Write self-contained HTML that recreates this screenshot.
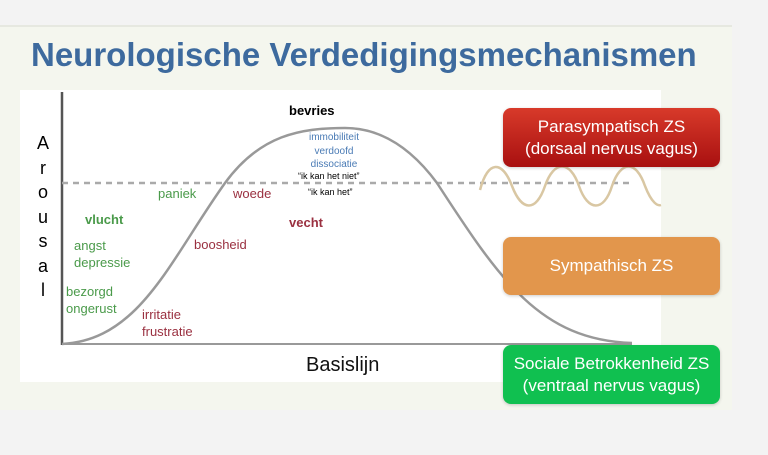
<!DOCTYPE html>
<html><head><meta charset="utf-8"><style>
body{margin:0;width:768px;height:455px;background:#f3f3f3;position:relative;overflow:hidden;font-family:"Liberation Sans",sans-serif}
.panel{position:absolute;left:0;top:25px;width:732px;height:383px;background:#f4f6ee;border-top:2px solid #e6e8e0}
.chart{position:absolute;left:20px;top:90px;width:641px;height:292px;background:#fff}
.t{position:absolute;white-space:nowrap}
.box{position:absolute;left:503px;width:217px;border-radius:8px;color:#fff;text-align:center;font-size:17px;line-height:22px;display:flex;flex-direction:column;justify-content:center;box-shadow:0 1px 3px rgba(0,0,0,.2)}
</style></head><body>
<div class="panel"></div>
<div class="chart"></div>
<div class="t" style="left:31px;top:36px;font-size:33px;font-weight:bold;color:#3d6a9e;letter-spacing:0px">Neurologische Verdedigingsmechanismen</div>
<svg style="position:absolute;left:0;top:0" width="768" height="455">
<line x1="62" y1="92" x2="62" y2="345" stroke="#555" stroke-width="2.5"/>
<line x1="62" y1="344" x2="632" y2="344" stroke="#999" stroke-width="2"/>
<line x1="62" y1="183" x2="630" y2="183" stroke="#aaa" stroke-width="2.5" stroke-dasharray="6,5"/>
<path d="M62,344 C140,340 170,260 225,183 C260,135 300,128 345,128 C390,128 420,160 437,183 C500,280 540,340 632,343" fill="none" stroke="#999" stroke-width="2.5"/>
<path d="M480,190 C488,160 502,160 512,186 C522,212 536,212 545,186 C554,160 570,160 579,186 C588,212 604,212 612,186 C621,160 636,160 645,186 C652,204 658,206 661,205" fill="none" stroke="#d9c7a3" stroke-width="2.5"/>
</svg>
<div class="t" style="left:36px;top:131px;font-size:18px;line-height:24.5px;text-align:center;width:14px">A<br>r<br>o<br>u<br>s<br>a<br>l</div>
<div class="t" style="left:289px;top:103px;font-size:13px;font-weight:bold">bevries</div>
<div class="t" style="left:300px;top:131px;font-size:10px;line-height:13.5px;color:#4a7bb5;text-align:center;width:68px">immobiliteit<br>verdoofd<br>dissociatie</div>
<div class="t" style="left:298px;top:171px;font-size:9px;color:#000">“ik kan het niet”</div>
<div class="t" style="left:308px;top:187px;font-size:9px;color:#000">“ik kan het”</div>
<div class="t" style="left:158px;top:186px;font-size:13px;color:#4a9a4a">paniek</div>
<div class="t" style="left:233px;top:186px;font-size:13px;color:#9a3040">woede</div>
<div class="t" style="left:85px;top:212px;font-size:13px;font-weight:bold;color:#4a9a4a">vlucht</div>
<div class="t" style="left:289px;top:215px;font-size:13px;font-weight:bold;color:#9a3040">vecht</div>
<div class="t" style="left:74px;top:237px;font-size:13px;line-height:17px;color:#4a9a4a">angst<br>depressie</div>
<div class="t" style="left:194px;top:237px;font-size:13px;color:#9a3040">boosheid</div>
<div class="t" style="left:66px;top:283px;font-size:13px;line-height:17px;color:#4a9a4a">bezorgd<br>ongerust</div>
<div class="t" style="left:142px;top:306px;font-size:13px;line-height:17px;color:#9a3040">irritatie<br>frustratie</div>
<div class="t" style="left:306px;top:354px;font-size:20px;color:#111">Basislijn</div>
<div class="box" style="top:108px;height:59px;background:linear-gradient(#d83a2a,#a81010)">Parasympatisch ZS<br>(dorsaal nervus vagus)</div>
<div class="box" style="top:237px;height:58px;background:#e2964c">Sympathisch ZS</div>
<div class="box" style="top:345px;height:59px;background:#10c050">Sociale Betrokkenheid ZS<br>(ventraal nervus vagus)</div>
</body></html>
